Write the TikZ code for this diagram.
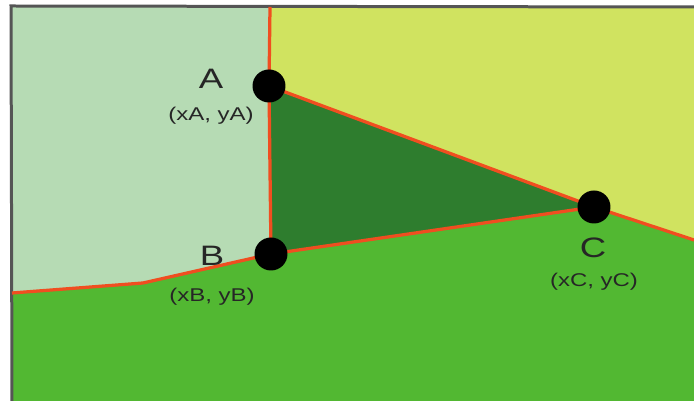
\documentclass[tikz,border=0pt]{standalone}
\usepackage{fontspec}
\setmainfont{Liberation Sans}
\newfontfamily\widesans[FakeStretch=1.3]{Liberation Sans}
\definecolor{paleGreen}{RGB}{182,219,180}
\definecolor{limeYellow}{RGB}{208,227,96}
\definecolor{darkGreen}{RGB}{46,125,46}
\definecolor{grassGreen}{RGB}{82,184,50}
\definecolor{edgeRed}{RGB}{240,78,32}
\definecolor{frameGrey}{RGB}{85,85,85}
\begin{document}
\begin{tikzpicture}[x=0.02cm, y=-0.02cm,
  edge/.style={draw=edgeRed, line width=0.065cm, line join=round},
  vertex/.style={circle, fill=black, inner sep=0pt, minimum size=0.66cm},
  ptname/.style={font=\widesans\fontsize{16}{16}\selectfont, text=black!85, inner sep=0pt},
  ptcoord/.style={font=\widesans\fontsize{10.5}{11}\selectfont, text=black!85, inner sep=0pt}]
\useasboundingbox (0,0) rectangle (694,401);
% boundary points
\coordinate (top) at (270,7);
\coordinate (tr) at (694,7);
\coordinate (rgt) at (694,240);
\coordinate (br) at (694,401);
\coordinate (bl) at (12,401);
\coordinate (lft) at (12,293);
\coordinate (kink) at (143,283);
\coordinate (tl) at (12,7);
\node[vertex] (ptA) at (269,86) {};
\node[vertex] (ptB) at (271,254) {};
\node[vertex] (ptC) at (594,207) {};
% regions
\fill[paleGreen] (tl) -- (top) -- (ptA.center) -- (ptB.center) -- (kink) -- (lft) -- cycle;
\fill[limeYellow] (top) -- (tr) -- (rgt) -- (ptC.center) -- (ptA.center) -- cycle;
\fill[darkGreen] (ptA.center) -- (ptC.center) -- (ptB.center) -- cycle;
\fill[grassGreen] (lft) -- (kink) -- (ptB.center) -- (ptC.center) -- (rgt) -- (br) -- (bl) -- cycle;
% frame
\draw[frameGrey, line width=0.06cm] (bl) -- (11,6) -- (tr);
% edges
\draw[edge] (top) -- (ptA.center);
\draw[edge] (ptA.center) -- (ptB.center);
\draw[edge] (ptA.center) -- (ptC.center);
\draw[edge] (ptB.center) -- (ptC.center);
\draw[edge] (ptC.center) -- (rgt);
\draw[edge] (ptB.center) -- (kink) -- (lft);
\node[vertex] at (ptA) {};
\node[vertex] at (ptB) {};
\node[vertex] at (ptC) {};
% labels
\node[ptname] (nameA) at (211,79) {A};
\node[ptcoord] (crdA) at (211,116) {(xA, yA)};
\node[ptname] (nameB) at (212,256) {B};
\node[ptcoord] (crdB) at (212,297) {(xB, yB)};
\node[ptname] (nameC) at (593,248) {C};
\node[ptcoord] (crdC) at (594,282) {(xC, yC)};
\end{tikzpicture}
\end{document}
